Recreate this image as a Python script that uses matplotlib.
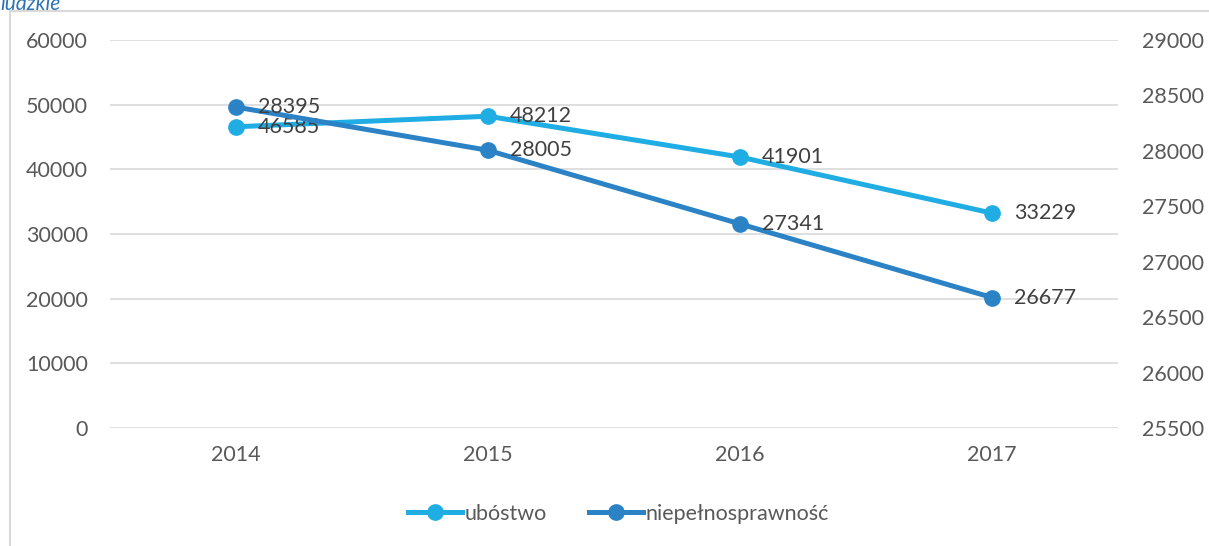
import matplotlib.pyplot as plt
from matplotlib.lines import Line2D

plt.rcParams['font.family'] = ['Lato', 'DejaVu Sans']

years = ['2014', '2015', '2016', '2017']
ubostwo = [46585, 48212, 41901, 33229]
niepelnosprawnosc = [28395, 28005, 27341, 26677]

c_light = '#1fade3'
c_dark = '#2b83c6'
grey = '#595959'

fig = plt.figure(figsize=(12.09, 5.46), dpi=100)
ax = fig.add_axes([110 / 1209, 1 - 428 / 546, 1008 / 1209, 388 / 546])
ax2 = ax.twinx()

x = range(len(years))
ax.plot(x, ubostwo, color=c_light, lw=3.6, marker='o', ms=11, zorder=3)
ax2.plot(x, niepelnosprawnosc, color=c_dark, lw=3.6, marker='o', ms=11, zorder=3)

for i, v in enumerate(ubostwo):
    ax.annotate(str(v), (i, v), xytext=(16, 0), textcoords='offset points',
                va='center', ha='left', fontsize=15.5, color='#404040', zorder=5)
for i, v in enumerate(niepelnosprawnosc):
    ax2.annotate(str(v), (i, v), xytext=(16, 0), textcoords='offset points',
                 va='center', ha='left', fontsize=15.5, color='#404040', zorder=5)

ax.set_xlim(-0.5, 3.5)
ax.set_ylim(0, 60000)
ax.set_yticks(range(0, 60001, 10000))
ax2.set_ylim(25500, 29000)
ax2.set_yticks(range(25500, 29001, 500))
ax.set_xticks(list(x))
ax.set_xticklabels(years)

ax.grid(axis='y', color='#d9d9d9', lw=1.2)
ax.set_axisbelow(True)
for a in (ax, ax2):
    for s in a.spines.values():
        s.set_visible(False)
    a.tick_params(length=0, labelsize=15.5, labelcolor=grey)
ax.tick_params(axis='y', pad=16)
ax2.tick_params(axis='y', pad=17)
ax.tick_params(axis='x', pad=12)

handles = [
    Line2D([], [], color=c_light, lw=3.6, marker='o', ms=11),
    Line2D([], [], color=c_dark, lw=3.6, marker='o', ms=11),
]
fig.legend(handles, ['ubóstwo', 'niepełnosprawność'], loc='center',
           bbox_to_anchor=(0.5 + 14 / 1209, 1 - 514 / 546), ncol=2, frameon=False,
           fontsize=15.5, labelcolor=grey, handlelength=2.5, handletextpad=0.1,
           columnspacing=2.0)

# chart frame (partly cut off)
fig.add_artist(Line2D([10 / 1209, 10 / 1209], [0, 1 - 11 / 546], color='#d9d9d9', lw=1.5))
fig.add_artist(Line2D([10 / 1209, 1], [1 - 11 / 546, 1 - 11 / 546], color='#d9d9d9', lw=1.5))
fig.text(0.0, 1 - 4 / 546, 'ludzkie', fontsize=15, style='italic', color='#2e74b5',
         ha='left', va='center')

fig.savefig('out.png', dpi=100)
